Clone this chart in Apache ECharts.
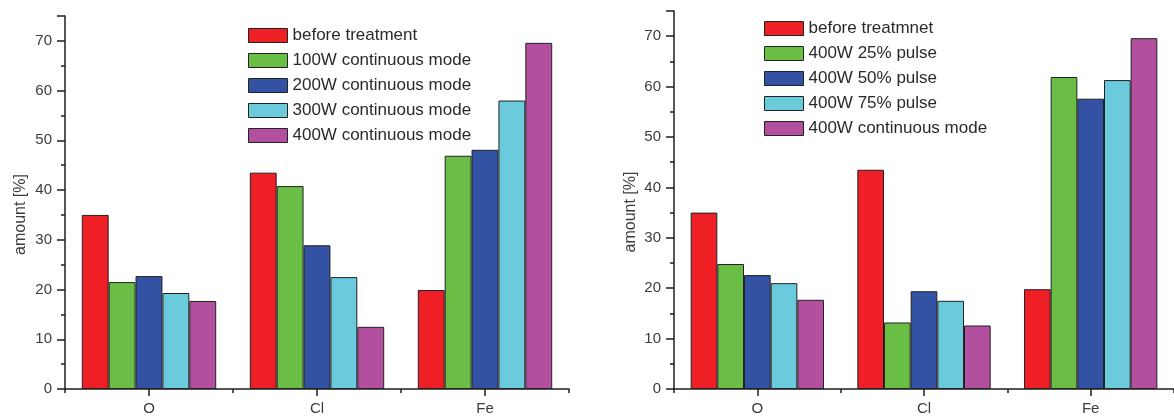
<!DOCTYPE html>
<html>
<head>
<meta charset="utf-8">
<script src="https://cdn.jsdelivr.net/npm/echarts@6/dist/echarts.min.js"></script>
<style>
html,body{margin:0;padding:0;background:#fff;}
#main{width:1174px;height:416px;}
</style>
</head>
<body>
<div id="main"></div>
<script>
const categories = ['O', 'Cl', 'Fe'];
const yTicks = [0, 10, 20, 30, 40, 50, 60, 70];

const leftNames = ['before treatment', '100W continuous mode', '200W continuous mode', '300W continuous mode', '400W continuous mode'];
const leftBefore = [35.0, 43.5, 19.9];
const left100W = [21.5, 40.8, 46.9];
const left200W = [22.7, 28.9, 48.1];
const left300W = [19.3, 22.5, 58.0];
const left400W = [17.7, 12.5, 69.6];

const rightNames = ['before treatmnet', '400W 25% pulse', '400W 50% pulse', '400W 75% pulse', '400W continuous mode'];
const rightBefore = [35.0, 43.5, 19.8];
const right25 = [24.8, 13.2, 61.9];
const right50 = [22.6, 19.4, 57.6];
const right75 = [21.0, 17.5, 61.3];
const right400W = [17.7, 12.6, 69.6];

const colors = ['#EE1F25', '#6ABD45', '#3452A3', '#6BCBDC', '#B24F9E'];
const FONT = 'Liberation Sans, Arial, sans-serif';
const AXIS_COLOR = '#1e1e1e';
const LABEL_COLOR = '#3c3c3c';

const leftData = [leftBefore, left100W, left200W, left300W, left400W];
const rightData = [rightBefore, right25, right50, right75, right400W];

const grids = [
  {left: 65, top: 16, width: 504, height: 375},
  {left: 674, top: 11, width: 510, height: 378}
];

function xAxesFor(gi) {
  return [
    {
      type: 'category', gridIndex: gi, data: categories, position: 'bottom',
      axisLine: {show: true, lineStyle: {color: AXIS_COLOR, width: 1.5}},
      axisTick: {show: true, alignWithLabel: true, length: 7, lineStyle: {color: AXIS_COLOR, width: 1.5}},
      axisLabel: {show: true, margin: 12, fontSize: 15, color: LABEL_COLOR, fontFamily: FONT},
      splitLine: {show: false}
    },
    {
      type: 'category', gridIndex: gi, data: categories, position: 'bottom',
      axisLine: {show: false},
      axisTick: {show: true, alignWithLabel: false, length: 4, lineStyle: {color: AXIS_COLOR, width: 1.5}},
      axisLabel: {show: false},
      splitLine: {show: false}
    }
  ];
}

function yAxisFor(gi, gap) {
  return {
    type: 'value', gridIndex: gi, min: 0, max: 75, interval: 10,
    name: 'amount [%]', nameLocation: 'middle', nameGap: gap, nameRotate: 90,
    nameTextStyle: {fontSize: 16, color: LABEL_COLOR, fontFamily: FONT, padding: [0, 24, 0, 0]},
    axisLine: {show: true, lineStyle: {color: AXIS_COLOR, width: 1.5}},
    axisTick: {show: true, length: 8, lineStyle: {color: AXIS_COLOR, width: 1.5}},
    minorTick: {show: true, splitNumber: 2, length: 4, lineStyle: {color: AXIS_COLOR, width: 1.5}},
    axisLabel: {
      margin: 13, fontSize: 15, color: LABEL_COLOR, fontFamily: FONT, showMaxLabel: false,
      formatter: v => (yTicks.indexOf(v) >= 0 ? String(v) : '')
    },
    splitLine: {show: false},
    minorSplitLine: {show: false}
  };
}

const series = [];
leftNames.forEach((n, i) => {
  series.push({
    type: 'bar', name: n, xAxisIndex: 0, yAxisIndex: 0, data: leftData[i],
    barGap: '0%', barCategoryGap: '20%',
    itemStyle: {color: colors[i], borderColor: '#222', borderWidth: 1}
  });
});
rightNames.forEach((n, i) => {
  series.push({
    type: 'bar', name: n, xAxisIndex: 2, yAxisIndex: 1, data: rightData[i],
    barGap: '0%', barCategoryGap: '20%',
    itemStyle: {color: colors[i], borderColor: '#222', borderWidth: 1}
  });
});

const legendBase = {
  orient: 'vertical', align: 'left', icon: 'rect',
  itemWidth: 39, itemHeight: 14, itemGap: 8,
  textStyle: {fontSize: 17, color: '#2a2a2a', fontFamily: FONT, lineHeight: 14},
  itemStyle: {borderColor: '#222', borderWidth: 1}
};

const option = {
  animation: false,
  backgroundColor: '#fff',
  grid: grids,
  xAxis: [...xAxesFor(0), ...xAxesFor(1)],
  yAxis: [yAxisFor(0, 36), yAxisFor(1, 35)],
  legend: [
    Object.assign({}, legendBase, {left: 243, top: 22, data: leftNames}),
    Object.assign({}, legendBase, {left: 759, top: 15, data: rightNames})
  ],
  series: series
};

const chart = echarts.init(document.getElementById('main'), null, {renderer: 'canvas'});
chart.setOption(option);
</script>
</body>
</html>
